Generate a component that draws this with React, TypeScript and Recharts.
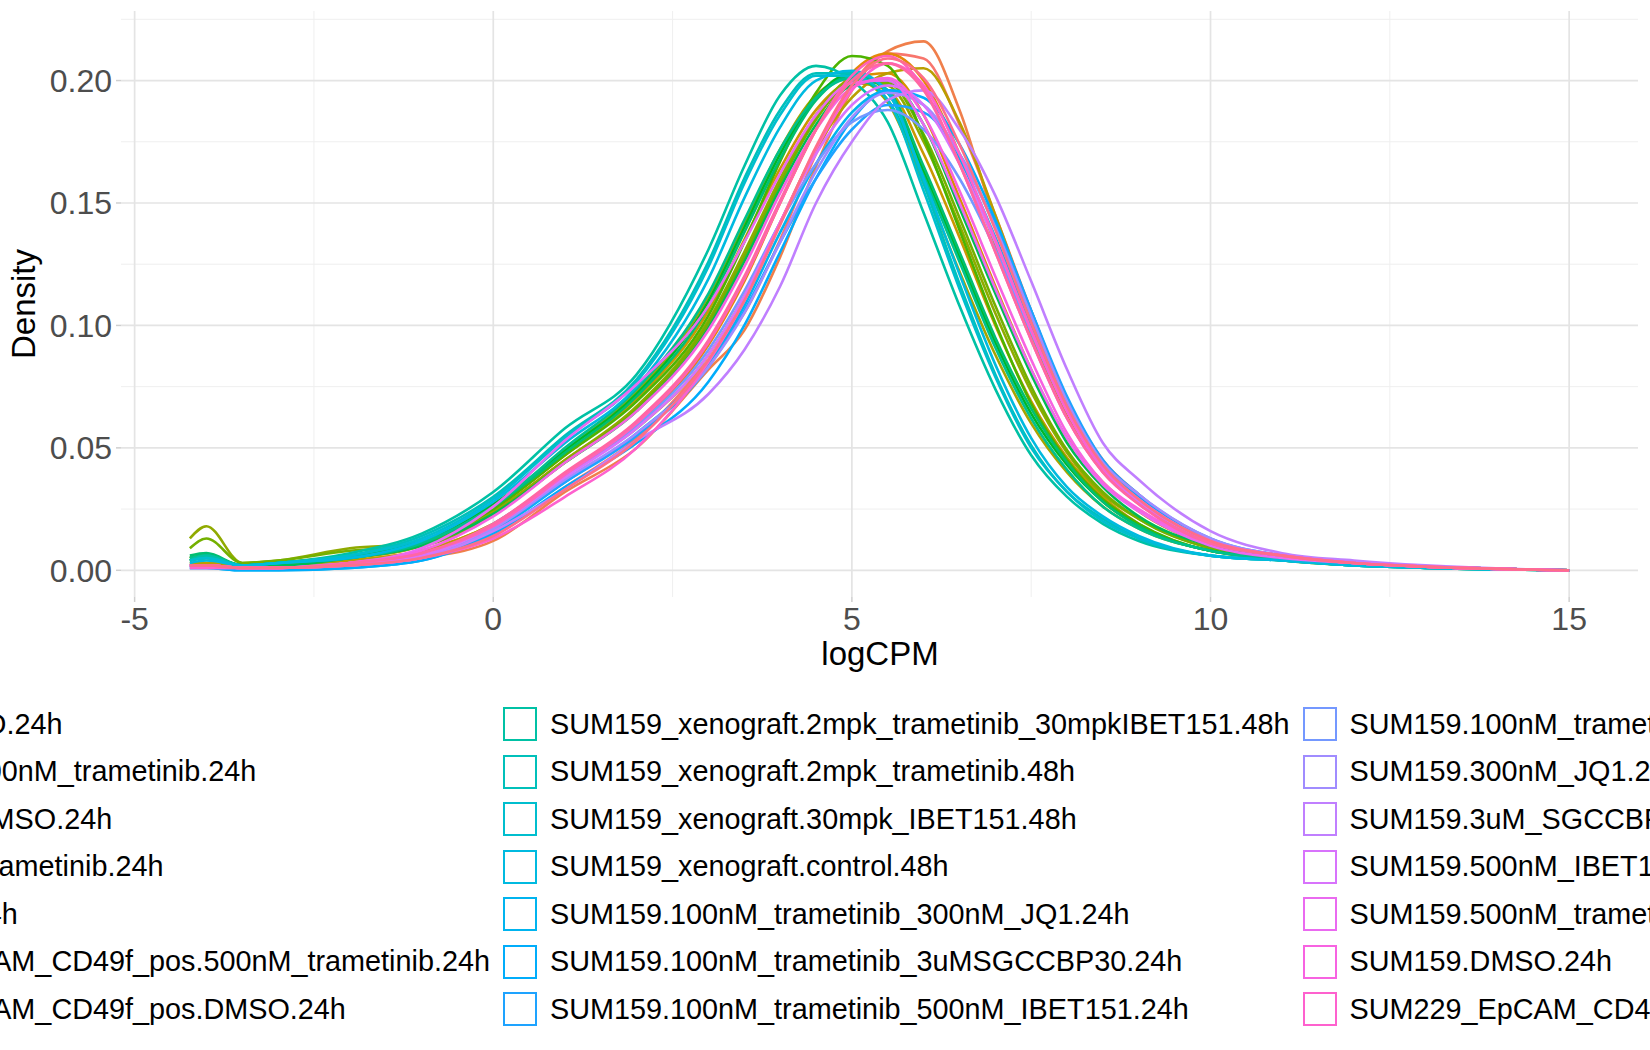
import React from "react";
import { CartesianGrid, Label, Line, LineChart, XAxis, YAxis } from "recharts";

// density evaluated at these logCPM positions
const logCPM = [-4.23, -4, -3.5, -3, -2, -1, 0, 1, 2, 3, 3.5, 4, 4.5, 5, 5.5, 6, 6.5, 7, 7.5, 8, 8.5, 9, 10, 11, 12, 13, 15];

const samples = [
  "SUM149.100nM_trametinib_300nM_JQ1.24h",
  "SUM149.100nM_trametinib_3uMSGCCBP30.24h",
  "SUM149.100nM_trametinib_500nM_IBET151.24h",
  "SUM149.100nM_trametinib.24h",
  "SUM149.300nM_JQ1.24h",
  "SUM149.3uM_SGCCBP30.24h",
  "SUM149.500nM_IBET151.24h",
  "SUM52.DMSO.24h",
  "SUM149PT.500nM_trametinib.24h",
  "SUM149PT.DMSO.24h",
  "SUM149PT_trametinib.24h",
  "SUM149PT.24h",
  "SUM159.EpCAM_CD49f_pos.500nM_trametinib.24h",
  "SUM159.EpCAM_CD49f_pos.DMSO.24h",
  "SUM159_xenograft.2mpk_trametinib_30mpkIBET151.48h",
  "SUM159_xenograft.2mpk_trametinib.48h",
  "SUM159_xenograft.30mpk_IBET151.48h",
  "SUM159_xenograft.control.48h",
  "SUM159.100nM_trametinib_300nM_JQ1.24h",
  "SUM159.100nM_trametinib_3uMSGCCBP30.24h",
  "SUM159.100nM_trametinib_500nM_IBET151.24h",
  "SUM159.100nM_trametinib.24h",
  "SUM159.300nM_JQ1.24h",
  "SUM159.3uM_SGCCBP30.24h",
  "SUM159.500nM_IBET151.24h",
  "SUM159.500nM_trametinib.24h",
  "SUM159.DMSO.24h",
  "SUM229_EpCAM_CD49f_neg.500nM_trametinib.24h",
  "SUM229_EpCAM_CD49f_neg.DMSO.24h",
  "SUM229_EpCAM_CD49f_pos.500nM_trametinib.24h",
  "SUM229_EpCAM_CD49f_pos.DMSO.24h",
];

const d00 = [.002, .002, .001, .001, .002, .005, .014, .034, .054, .086, .105, .135, .170, .198, .211, .209, .182, .145, .106, .070, .045, .031, .012, .006, .003, .0015, 0];
const d01 = [.002, .002, .001, .001, .002, .005, .012, .032, .050, .082, .098, .128, .165, .196, .212, .216, .188, .142, .103, .068, .044, .030, .012, .006, .003, .0015, 0];
const d02 = [.003, .003, .002, .002, .004, .008, .019, .039, .059, .092, .118, .150, .180, .203, .211, .200, .170, .133, .096, .063, .041, .028, .011, .006, .003, .0015, 0];
const d03 = [.005, .006, .002, .003, .006, .011, .024, .045, .066, .100, .128, .158, .185, .201, .203, .186, .152, .116, .082, .054, .036, .024, .010, .005, .003, .0015, 0];
const d04 = [.004, .005, .002, .003, .005, .010, .025, .047, .070, .106, .135, .164, .188, .199, .196, .170, .136, .100, .069, .046, .030, .019, .008, .005, .003, .0015, 0];
const d05 = [.003, .003, .002, .002, .004, .008, .019, .039, .058, .088, .112, .142, .172, .193, .203, .205, .183, .145, .105, .069, .044, .030, .012, .006, .003, .0015, 0];
const d06 = [.004, .005, .002, .003, .006, .011, .026, .049, .073, .112, .142, .172, .194, .201, .191, .158, .122, .088, .060, .040, .026, .017, .008, .004, .002, .001, 0];
const d07 = [.013, .018, .003, .004, .009, .011, .024, .045, .067, .102, .130, .160, .186, .200, .198, .175, .141, .105, .073, .048, .031, .021, .009, .005, .003, .0015, 0];
const d08 = [.009, .013, .003, .004, .008, .010, .023, .044, .066, .101, .128, .158, .184, .199, .199, .178, .144, .108, .075, .049, .032, .021, .009, .005, .003, .0015, 0];
const d09 = [.005, .006, .002, .003, .005, .011, .025, .047, .069, .104, .134, .167, .195, .210, .206, .177, .139, .101, .068, .045, .029, .019, .008, .005, .003, .0015, 0];
const d10 = [.005, .006, .002, .003, .006, .012, .027, .049, .072, .110, .140, .170, .193, .203, .195, .163, .128, .093, .064, .043, .028, .018, .008, .005, .003, .0015, 0];
const d11 = [.004, .005, .002, .002, .005, .010, .023, .044, .065, .099, .126, .156, .182, .198, .200, .182, .148, .113, .080, .052, .034, .022, .010, .005, .003, .0015, 0];
const d12 = [.006, .007, .002, .003, .005, .011, .026, .048, .071, .108, .138, .168, .192, .202, .196, .165, .130, .095, .066, .044, .028, .018, .008, .005, .003, .0015, 0];
const d13 = [.005, .006, .002, .003, .005, .011, .026, .050, .074, .113, .143, .172, .193, .201, .192, .161, .126, .091, .062, .041, .026, .017, .008, .004, .002, .001, 0];
const d14 = [.004, .006, .002, .003, .007, .015, .032, .058, .080, .131, .165, .194, .206, .200, .183, .146, .108, .074, .047, .030, .019, .012, .006, .004, .002, .001, 0];
const d15 = [.004, .005, .002, .003, .006, .014, .030, .055, .078, .126, .160, .188, .203, .203, .196, .158, .117, .080, .051, .032, .021, .013, .006, .004, .002, .001, 0];
const d16 = [.004, .005, .002, .003, .006, .013, .029, .054, .077, .124, .158, .186, .202, .202, .192, .155, .115, .079, .050, .032, .020, .013, .006, .004, .002, .001, 0];
const d17 = [.003, .004, .002, .003, .005, .012, .028, .052, .075, .119, .152, .181, .200, .204, .195, .160, .121, .084, .054, .034, .022, .014, .006, .004, .002, .001, 0];
const d18 = [.001, .001, .000, .000, .001, .004, .016, .036, .056, .084, .108, .138, .166, .187, .196, .190, .168, .136, .100, .066, .042, .029, .012, .006, .003, .0015, 0];
const d19 = [.001, .001, .000, .000, .001, .004, .015, .034, .052, .077, .100, .130, .160, .184, .196, .193, .174, .143, .106, .069, .043, .030, .012, .006, .003, .0015, 0];
const d20 = [.002, .002, .001, .001, .002, .005, .017, .036, .055, .083, .106, .134, .160, .180, .190, .187, .170, .141, .106, .071, .045, .031, .013, .006, .003, .0015, 0];
const d21 = [.002, .002, .001, .001, .003, .006, .019, .039, .059, .090, .114, .142, .166, .183, .188, .180, .160, .131, .097, .065, .042, .029, .012, .006, .003, .0015, 0];
const d22 = [.002, .002, .001, .001, .002, .005, .017, .037, .056, .083, .105, .134, .163, .185, .195, .190, .170, .140, .104, .069, .044, .031, .013, .006, .003, .0015, 0];
const d23 = [.001, .001, .001, .001, .002, .005, .016, .033, .053, .072, .090, .116, .150, .175, .192, .196, .180, .153, .118, .082, .052, .037, .016, .007, .004, .002, 0];
const d24 = [.002, .002, .001, .001, .003, .006, .018, .038, .058, .088, .112, .142, .170, .190, .198, .190, .166, .134, .098, .065, .041, .028, .012, .006, .003, .0015, 0];
const d25 = [.002, .002, .001, .001, .003, .009, .026, .053, .076, .108, .134, .162, .186, .199, .200, .182, .150, .115, .082, .054, .035, .024, .010, .005, .003, .0015, 0];
const d26 = [.002, .002, .001, .001, .003, .008, .022, .044, .065, .098, .124, .154, .180, .197, .201, .186, .155, .120, .086, .056, .036, .025, .011, .006, .003, .0015, 0];
const d27 = [.001, .001, .001, .001, .002, .005, .013, .030, .050, .085, .110, .142, .172, .196, .207, .198, .170, .135, .098, .065, .042, .029, .012, .006, .003, .0015, 0];
const d28 = [.002, .002, .001, .001, .003, .007, .018, .039, .060, .093, .119, .150, .180, .202, .210, .197, .166, .130, .094, .062, .040, .027, .011, .006, .003, .0015, 0];
const d29 = [.002, .002, .001, .001, .003, .007, .019, .040, .061, .094, .120, .151, .180, .200, .207, .196, .166, .130, .094, .062, .040, .027, .011, .006, .003, .0015, 0];
const d30 = [.002, .002, .001, .001, .002, .005, .014, .033, .053, .086, .110, .141, .173, .198, .209, .201, .174, .139, .101, .067, .043, .029, .012, .006, .003, .0015, 0];

const densities = [
  d00, d01, d02, d03, d04, d05, d06, d07, d08, d09, d10, d11, d12, d13, d14, d15,
  d16, d17, d18, d19, d20, d21, d22, d23, d24, d25, d26, d27, d28, d29, d30,
];

const xTicks = [-5, 0, 5, 10, 15];
const yTicks = [0, 0.05, 0.1, 0.15, 0.2];
const xMinor = [-2.5, 2.5, 7.5, 12.5];
const yMinor = [0.025, 0.075, 0.125, 0.175, 0.225];

// ggplot2 default hue palette: hcl(h, c = 100, l = 65)
function hueColor(h: number, c = 100, l = 65) {
  const hr = (h * Math.PI) / 180;
  const u = c * Math.cos(hr);
  const v = c * Math.sin(hr);
  const Xn = 95.047, Yn = 100, Zn = 108.883;
  const Y = l > 8 ? Yn * Math.pow((l + 16) / 116, 3) : (Yn * l) / 903.3;
  const t = Xn + 15 * Yn + 3 * Zn;
  const up = u / (13 * l) + (4 * Xn) / t;
  const vp = v / (13 * l) + (9 * Yn) / t;
  const X = (9 * Y * up) / (4 * vp);
  const Z = -X / 3 - 5 * Y + (3 * Y) / vp;
  const x = X / 100, y = Y / 100, z = Z / 100;
  const lin = [
    3.240479 * x - 1.53715 * y - 0.498535 * z,
    -0.969256 * x + 1.875992 * y + 0.041556 * z,
    0.055648 * x - 0.204043 * y + 1.057311 * z,
  ];
  return (
    "#" +
    lin
      .map((ch) => {
        const g = ch <= 0.0031308 ? 12.92 * ch : 1.055 * Math.pow(ch, 1 / 2.4) - 0.055;
        return Math.round(Math.min(1, Math.max(0, g)) * 255)
          .toString(16)
          .padStart(2, "0");
      })
      .join("")
  );
}

const colors = samples.map((_, i) => hueColor(15 + (i * 360) / samples.length));

const rows = logCPM.map((x, i) => {
  const row: Record<string, number> = { x };
  densities.forEach((d, k) => {
    row[`s${k}`] = d[i];
  });
  return row;
});

const font = '"Liberation Sans", Arial, Helvetica, sans-serif';
const tickStyle = { fill: "#4D4D4D", fontSize: 32, fontFamily: font };

function LegendColumn({ start }: { start: number }) {
  return (
    <div style={{ display: "flex", flexDirection: "column", marginRight: 13 }}>
      {samples.slice(start, start + 7).map((name, j) => (
        <div key={name} style={{ height: 47.5, display: "flex", alignItems: "center" }}>
          <div
            style={{
              width: 34,
              height: 34,
              boxSizing: "border-box",
              border: `2.2px solid ${colors[start + j]}`,
              flex: "none",
            }}
          />
          <span style={{ marginLeft: 13, whiteSpace: "nowrap" }}>{name}</span>
        </div>
      ))}
    </div>
  );
}

export default function App() {
  return (
    <div
      style={{
        position: "absolute",
        left: 0,
        top: 0,
        width: 1650,
        height: 1050,
        overflow: "hidden",
        background: "#fff",
        fontFamily: font,
      }}
    >
      <LineChart width={1650} height={680} data={rows} margin={{ top: 11, right: 12, left: 0, bottom: 0 }}>
        <CartesianGrid horizontalValues={yMinor} verticalValues={xMinor} stroke="#EFEFEF" strokeWidth={1} />
        <CartesianGrid horizontalValues={yTicks} verticalValues={xTicks} stroke="#E4E4E4" strokeWidth={1.7} />
        <XAxis
          dataKey="x"
          type="number"
          domain={[-5.19, 15.96]}
          ticks={xTicks}
          height={83}
          axisLine={false}
          tickLine={{ stroke: "#CFCFCF", strokeWidth: 1.5 }}
          tickSize={5}
          tickMargin={5}
          tick={tickStyle}
          allowDataOverflow
        >
          <Label
            content={() => (
              <text x={880} y={665} textAnchor="middle" fontSize={33} fontFamily={font} fill="#000">
                logCPM
              </text>
            )}
          />
        </XAxis>
        <YAxis
          type="number"
          domain={[-0.0109, 0.2284]}
          ticks={yTicks}
          width={121}
          axisLine={false}
          tickLine={{ stroke: "#CFCFCF", strokeWidth: 1.5 }}
          tickSize={5}
          tickMargin={4}
          tick={tickStyle}
          tickFormatter={(v: number) => v.toFixed(2)}
          allowDataOverflow
        >
          <Label
            content={() => (
              <text
                x={35}
                y={304}
                transform="rotate(-90 35 304)"
                textAnchor="middle"
                fontSize={33}
                fontFamily={font}
                fill="#000"
              >
                Density
              </text>
            )}
          />
        </YAxis>
        {samples.map((name, k) => (
          <Line
            key={name}
            dataKey={`s${k}`}
            name={name}
            type="monotone"
            stroke={colors[k]}
            strokeWidth={2.6}
            dot={false}
            activeDot={false}
            isAnimationActive={false}
          />
        ))}
      </LineChart>
      <div
        style={{
          position: "absolute",
          top: 700.25,
          right: 1650 - 503,
          display: "flex",
          fontSize: 28.8,
          color: "#000",
        }}
      >
        <LegendColumn start={0} />
        <LegendColumn start={7} />
      </div>
      <div
        style={{
          position: "absolute",
          top: 700.25,
          left: 503,
          display: "flex",
          fontSize: 28.8,
          color: "#000",
        }}
      >
        <LegendColumn start={14} />
        <LegendColumn start={21} />
        <LegendColumn start={28} />
      </div>
    </div>
  );
}
